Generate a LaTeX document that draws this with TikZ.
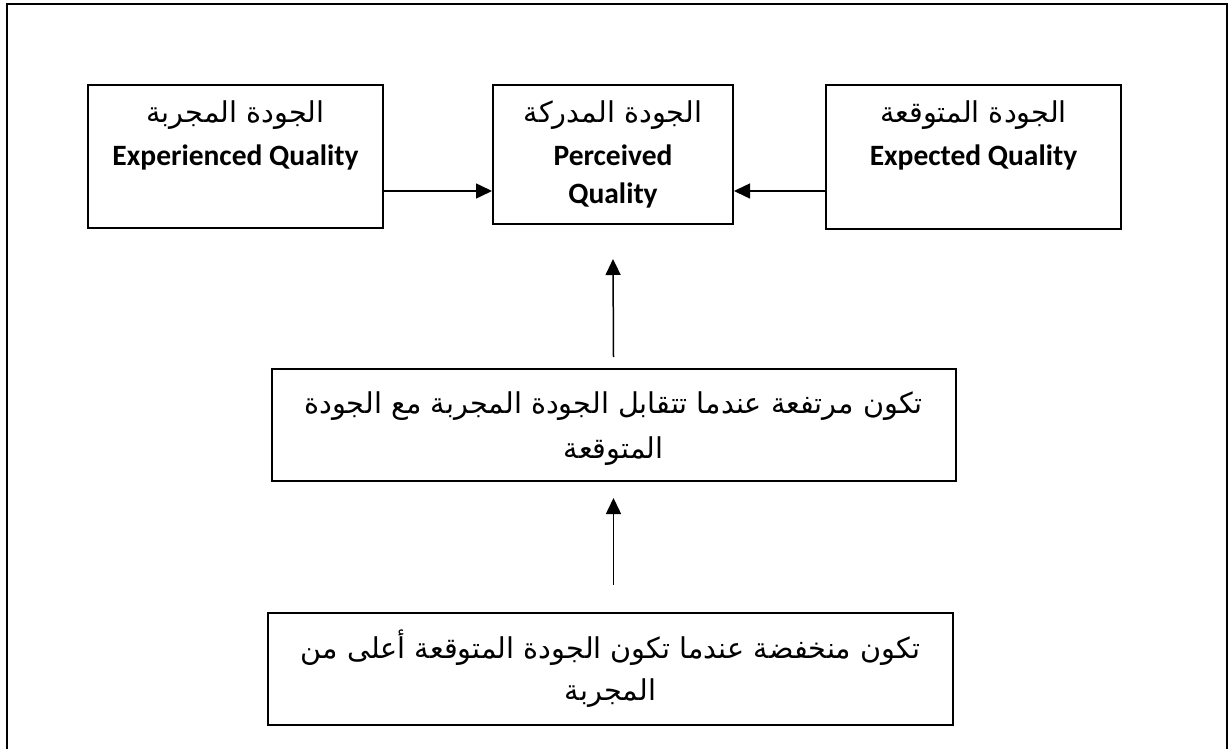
\documentclass[tikz,border=0pt]{standalone}
\usepackage{fontspec}
\newfontfamily\arabicfont[Script=Arabic]{DejaVu Sans}
\newfontfamily\latinfont{Carlito}
\TeXXeTstate=1
\usetikzlibrary{arrows, arrows.meta}

\tikzset{
  qbox/.style={draw, line width=2pt, inner sep=0pt},
  artext/.style={font=\arabicfont\fontsize{28.7}{34}\selectfont, anchor=base},
  entext/.style={font=\latinfont\bfseries\fontsize{29.5}{35}\selectfont, anchor=base},
  arr/.style={-{Triangle[length=16pt,width=15pt]}, line width=1.5pt}
}

\begin{document}
\begin{tikzpicture}[x=1pt,y=-1pt]
\useasboundingbox (0,0) rectangle (1229,749);
%Outer frame
\draw[line width=2.2pt] (7,749)--(7,4)--(1227,4)--(1227,749);

%Boxes of the upper row
\node[qbox, minimum width=295pt, minimum height=143pt] (exp) at (235.5,156.5){};
\node[qbox, minimum width=240pt, minimum height=139pt] (perc) at (613,154.5){};
\node[qbox, minimum width=295pt, minimum height=144pt] (expt) at (973.5,157){};

%Boxes of the lower column
\node[qbox, minimum width=684pt, minimum height=112pt] (high) at (613.5,425){};
\node[qbox, minimum width=685pt, minimum height=112pt] (low) at (610.5,668.5){};

%Texts of the upper row
\node[artext] (expAr) at (235.5,123){\beginR الجودة المجربة\endR};
\node[entext] (expEn) at (235.5,166){Experienced Quality};
\node[artext] (percAr) at (613,123){\beginR الجودة المدركة\endR};
\node[entext] (percEn) at (613,165){Perceived};
\node[entext] (percQ) at (613,204){Quality};
\node[artext] (exptAr) at (973.5,123){\beginR الجودة المتوقعة\endR};
\node[entext] (exptEn) at (973.5,165){Expected Quality};

%Texts of the lower column
\node[artext] (highA) at (613.5,413){\beginR تكون مرتفعة عندما تتقابل الجودة المجربة مع الجودة\endR};
\node[artext] (highB) at (613.5,458){\beginR المتوقعة\endR};
\node[artext] (lowA) at (610.5,658){\beginR تكون منخفضة عندما تكون الجودة المتوقعة أعلى من\endR};
\node[artext] (lowB) at (610.5,700){\beginR المجربة\endR};

%Arrows
\draw[arr] ([yshift=-34.5pt]exp.east) -- ([yshift=-34.5pt]exp.east -| perc.west);
\draw[arr] ([yshift=-34pt]expt.west) -- ([yshift=-34pt]expt.west -| perc.east);
\draw[arr] ([yshift=11pt]high.north) -- ([yshift=-34pt]perc.south);
\draw[arr] ([yshift=27pt]high.south |- low.north) -- ([yshift=-16pt]high.south);

\end{tikzpicture}
\end{document}
